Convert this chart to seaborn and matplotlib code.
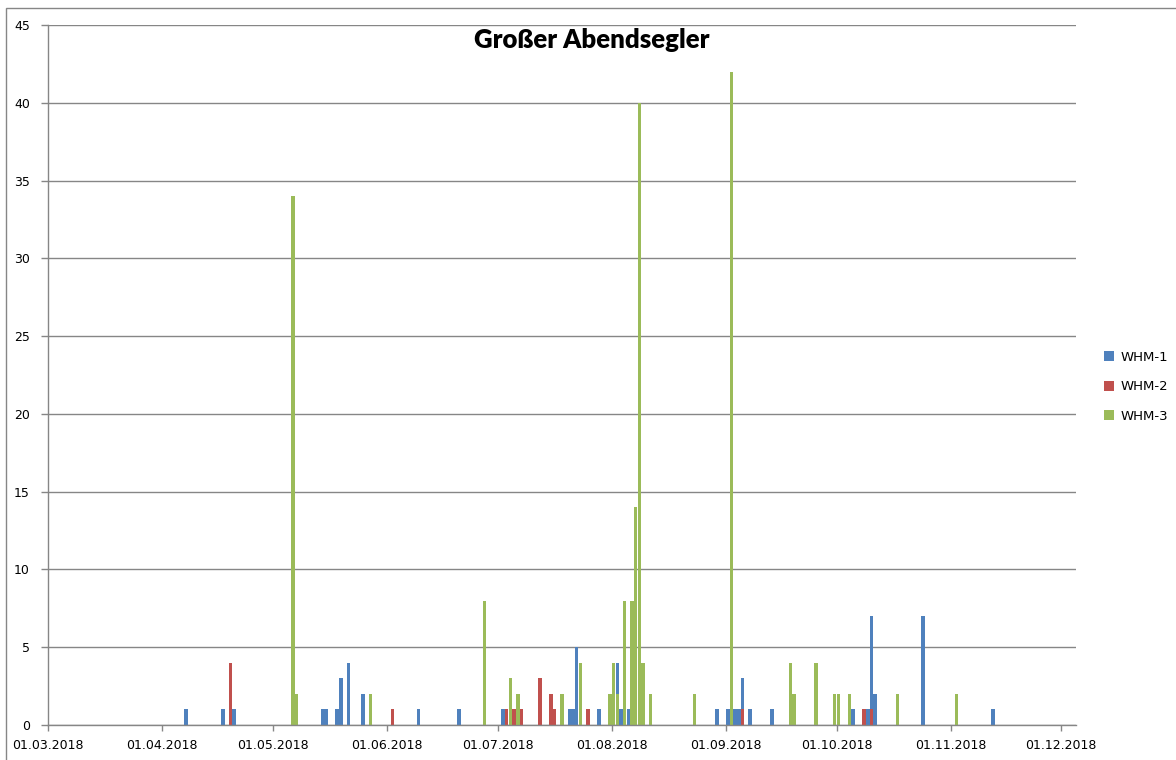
import seaborn as sns
import pandas as pd
import matplotlib
matplotlib.use('Agg')
import matplotlib.pyplot as plt
import matplotlib.dates as mdates
from matplotlib.patches import Rectangle

# Data (counts per night)
whm1_dates = ['07.04.2018', '17.04.2018', '20.04.2018', '14.05.2018', '15.05.2018',
              '18.05.2018', '19.05.2018', '21.05.2018', '25.05.2018', '09.06.2018',
              '20.06.2018', '02.07.2018', '20.07.2018', '21.07.2018', '22.07.2018',
              '28.07.2018', '02.08.2018', '03.08.2018', '05.08.2018', '29.08.2018',
              '01.09.2018', '03.09.2018', '04.09.2018', '05.09.2018', '07.09.2018',
              '13.09.2018', '05.10.2018', '09.10.2018', '10.10.2018', '11.10.2018',
              '24.10.2018', '12.11.2018']
whm1_values = [1, 1, 1, 1, 1, 1, 3, 4, 2, 1, 1, 1, 1, 1, 5, 1, 4, 1, 1, 1,
               1, 1, 1, 3, 1, 1, 1, 1, 7, 2, 7, 1]

whm2_dates = ['19.04.2018', '02.06.2018', '03.07.2018', '05.07.2018', '07.07.2018',
              '12.07.2018', '15.07.2018', '16.07.2018', '25.07.2018', '05.09.2018',
              '08.10.2018', '10.10.2018']
whm2_values = [4, 1, 1, 1, 1, 3, 2, 1, 1, 1, 1, 1]

whm3_dates = ['06.05.2018', '07.05.2018', '27.05.2018', '27.06.2018', '04.07.2018',
              '06.07.2018', '18.07.2018', '23.07.2018', '31.07.2018', '01.08.2018',
              '02.08.2018', '04.08.2018', '06.08.2018', '07.08.2018', '08.08.2018',
              '09.08.2018', '11.08.2018', '23.08.2018', '02.09.2018', '18.09.2018',
              '19.09.2018', '25.09.2018', '30.09.2018', '01.10.2018', '04.10.2018',
              '17.10.2018', '02.11.2018']
whm3_values = [34, 2, 2, 8, 3, 2, 2, 4, 2, 4, 2, 8, 8, 14, 40, 4, 2, 2, 42, 4,
               2, 4, 2, 2, 2, 2, 2]

series_names = ['WHM-1', 'WHM-2', 'WHM-3']
colors = ['#4F81BD', '#C0504D', '#9BBB59']
month_ticks = ['01.03.2018', '01.04.2018', '01.05.2018', '01.06.2018', '01.07.2018',
               '01.08.2018', '01.09.2018', '01.10.2018', '01.11.2018', '01.12.2018']

frames = []
for name, d, v in zip(series_names, [whm1_dates, whm2_dates, whm3_dates],
                      [whm1_values, whm2_values, whm3_values]):
    part = pd.DataFrame({'date': pd.to_datetime(d, format='%d.%m.%Y'), 'value': v})
    part['series'] = name
    frames.append(part)
df = pd.concat(frames, ignore_index=True)
# each day occupies the slot between its tick and the next day
df['x'] = mdates.date2num(df['date']) + 0.5

sns.set_style('white')
plt.rcParams['font.family'] = ['DejaVu Sans']
plt.rcParams['text.color'] = 'black'
plt.rcParams['xtick.labelcolor'] = 'black'
plt.rcParams['ytick.labelcolor'] = 'black'

fig = plt.figure(figsize=(11.76, 7.6), dpi=100)
ax = fig.add_axes([48 / 1176, 1 - 725 / 760, (1076 - 48) / 1176, (725 - 25) / 760])

sns.barplot(data=df, x='x', y='value', hue='series', hue_order=series_names,
            palette=colors, native_scale=True, dodge=False, width=0.95,
            errorbar=None, saturation=1, linewidth=0, ax=ax)

tick_nums = mdates.date2num(pd.to_datetime(month_ticks, format='%d.%m.%Y'))
ax.set_xticks(tick_nums)
ax.set_xticklabels(month_ticks)
ax.set_xlim(tick_nums[0], tick_nums[0] + 279)
ax.set_ylim(0, 45)
ax.set_yticks(range(0, 46, 5))
ax.set_xlabel('')
ax.set_ylabel('')

grid_col = '#868686'
ax.yaxis.grid(True, color=grid_col, linewidth=1)
ax.set_axisbelow(True)
for side in ['top', 'right']:
    ax.spines[side].set_visible(False)
for side in ['left', 'bottom']:
    ax.spines[side].set_color(grid_col)
    ax.spines[side].set_linewidth(1)
ax.tick_params(axis='y', direction='out', length=5, color=grid_col, width=1,
               labelsize=9, pad=8, left=True, labelcolor='black')
ax.tick_params(axis='x', direction='out', length=4, color=grid_col, width=1,
               labelsize=9, pad=6, bottom=True, labelcolor='black')

handles, labels = ax.get_legend_handles_labels()
ax.legend_.remove()
fig.legend(handles, labels, loc='center left', bbox_to_anchor=(1092 / 1176, 1 - 387 / 760),
           frameon=False, fontsize=9.5, handlelength=0.8, handleheight=0.8,
           handletextpad=0.5, labelspacing=1.25, labelcolor='black')

fig.text(592 / 1176, 1 - 40 / 760, 'Großer Abendsegler', ha='center', va='center',
         fontsize=18.5, fontweight='heavy', color='black', family=['Lato', 'DejaVu Sans'])

# outer chart frame
fig.patches.append(Rectangle((6 / 1176, -0.05), 1.0, 1 - 8 / 760 + 0.05,
                             transform=fig.transFigure, fill=False,
                             edgecolor=grid_col, linewidth=1))

fig.savefig('out.png', dpi=100)
